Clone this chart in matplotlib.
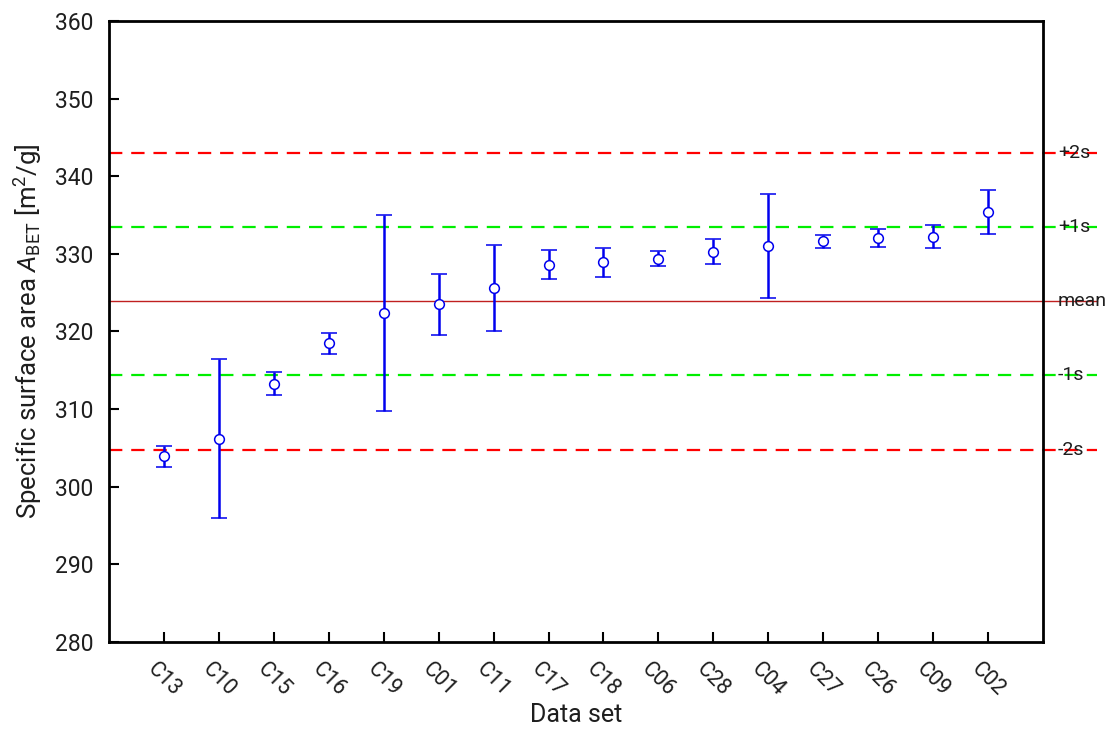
import matplotlib
matplotlib.use('Agg')
import matplotlib.pyplot as plt
import matplotlib.transforms as mtransforms

# data
datasets = ['C13', 'C10', 'C15', 'C16', 'C19', 'C01', 'C11', 'C17',
            'C18', 'C06', 'C28', 'C04', 'C27', 'C26', 'C09', 'C02']
area = [303.9, 306.2, 313.3, 318.5, 322.4, 323.5, 325.6, 328.6,
        328.9, 329.4, 330.3, 331.0, 331.6, 332.0, 332.2, 335.4]
err = [1.4, 10.2, 1.5, 1.35, 12.6, 3.9, 5.5, 1.9,
       1.9, 1.0, 1.65, 6.65, 0.85, 1.15, 1.5, 2.8]
mean_val = 323.9
sd_val = 9.55
ref_labels = ['+2s', '+1s', 'mean', '-1s', '-2s']
ref_mult = [2, 1, 0, -1, -2]

fam = ['Roboto', 'DejaVu Sans']
plt.rcParams['font.family'] = fam
plt.rcParams['mathtext.fontset'] = 'custom'
plt.rcParams['mathtext.rm'] = 'Roboto'
plt.rcParams['mathtext.it'] = 'Roboto:italic'
txt_col = '#1e1e1e'

fig = plt.figure(figsize=(11.14, 7.33), dpi=100)
ax = fig.add_axes([0.0978, 0.1241, 0.8385, 0.8473])

x = list(range(1, len(datasets) + 1))

# reference lines, extended past the right axis
trans = mtransforms.blended_transform_factory(ax.transAxes, ax.transData)
for lab, m in zip(ref_labels, ref_mult):
    yv = mean_val + m * sd_val
    if m == 0:
        ax.plot([0, 1.058], [yv, yv], color='#c02020', lw=1.0,
                transform=trans, clip_on=False, zorder=1)
    else:
        col = '#ff0000' if abs(m) == 2 else '#00ee00'
        ax.plot([0, 1.058], [yv, yv], color=col, lw=1.6, ls=(0, (6, 4)),
                transform=trans, clip_on=False, zorder=1)
    ax.text(1.016, yv, lab, transform=trans, ha='left', va='center',
            fontsize=14, color=txt_col)

ax.errorbar(x, area, yerr=err, fmt='o', color='#0000ee', ecolor='#0000ee',
            elinewidth=1.8, capsize=5.5, capthick=1.8, markersize=7,
            markerfacecolor='white', markeredgecolor='#0000ee',
            markeredgewidth=1.1, zorder=3)

ax.set_xlim(0, len(datasets) + 1)
ax.set_ylim(280, 360)
ax.set_yticks(range(280, 361, 10))
ax.set_xticks(x)
ax.set_xticklabels(datasets, rotation=-45, ha='center', va='top')

ax.tick_params(axis='both', direction='in', length=7, width=1.5,
               labelsize=16.5, labelcolor=txt_col)
ax.tick_params(axis='x', pad=12, labelsize=15.5)
ax.tick_params(axis='y', pad=11)
for sp in ax.spines.values():
    sp.set_linewidth(2)

ax.set_xlabel('Data set', fontsize=18, labelpad=2, color=txt_col)
ax.set_ylabel(r'Specific surface area $\mathit{A}_{\mathrm{BET}}$ [m$^2$/g]',
              fontsize=18.5, labelpad=8, color=txt_col)

fig.savefig('out.png', dpi=100)
